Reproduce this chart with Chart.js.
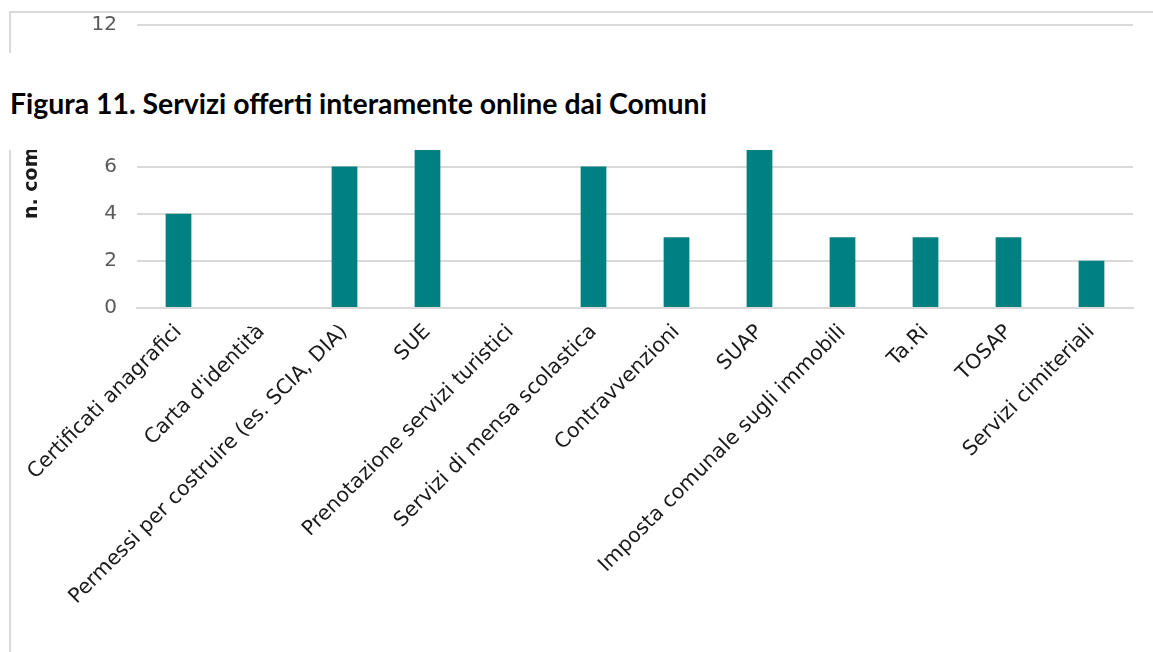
<!DOCTYPE html>
<html>
<head>
<meta charset="utf-8">
<script src="https://cdn.jsdelivr.net/npm/chart.js@4/dist/chart.umd.min.js"></script>
<style>
  html, body { margin: 0; padding: 0; background: #fff; }
  body { width: 1153px; height: 652px; position: relative; overflow: hidden; }
  #frame { position: absolute; left: 9px; top: 11px; width: 1150px; height: 650px;
           border-top: 2px solid #d9d9d9; border-left: 2px solid #d9d9d9; }
  #wrap { position: absolute; left: 11px; top: 13px; width: 1142px; height: 639px; }
  #cover { position: absolute; left: 0; top: 53px; width: 1153px; height: 97px; background: #fff; }
  #cover h1 { margin: 0; position: absolute; left: 10px; top: 34px; font: bold 28.4px Lato, sans-serif; line-height: 32px; color: #000; white-space: nowrap; }
</style>
</head>
<body>
<div id="frame"></div>
<div id="wrap"><canvas id="myChart"></canvas></div>
<div id="cover"><h1>Figura 11. Servizi offerti interamente online dai Comuni</h1></div>
<script>
const categories = [
  'Certificati anagrafici', "Carta d'identità", 'Permessi per costruire (es. SCIA, DIA)', 'SUE',
  'Prenotazione servizi turistici', 'Servizi di mensa scolastica', 'Contravvenzioni', 'SUAP',
  'Imposta comunale sugli immobili', 'Ta.Ri', 'TOSAP', 'Servizi cimiteriali'
]
const comuni = [4, 0, 6, 7, 0, 6, 3, 7, 3, 3, 3, 2]
const yTicks = [0, 2, 4, 6, 8, 10, 12]

var ctx = document.getElementById('myChart').getContext('2d');
var myChart = new Chart(ctx, {
  type: 'bar',
  data: {
    labels: categories,
    datasets: [{
      label: 'n. comuni',
      data: comuni,
      backgroundColor: '#008080',
      borderWidth: 0,
      barPercentage: 0.31,
      categoryPercentage: 1
    }]
  },
  options: {
    responsive: true,
    maintainAspectRatio: false,
    animation: false,
    layout: { padding: { top: 0, right: 20, left: 0, bottom: 0 } },
    plugins: {
      legend: { display: false },
      tooltip: { enabled: false }
    },
    scales: {
      x: {
        grid: { display: false, drawTicks: false },
        border: { display: true, color: '#d9d9d9', width: 2 },
        ticks: {
          autoSkip: false,
          minRotation: 45,
          maxRotation: 45,
          padding: 12,
          color: '#1a1a1a',
          font: { family: 'DejaVu Sans', size: 20.5 }
        },
        afterFit: (s) => { s.height = 344 }
      },
      y: {
        min: 0,
        max: 12,
        afterBuildTicks: (s) => { s.ticks = yTicks.map(v => ({ value: v })) },
        grid: { color: '#d9d9d9', lineWidth: 2, drawTicks: true, tickLength: 20, tickColor: 'rgba(0,0,0,0)' },
        border: { display: false },
        ticks: {
          padding: 0,
          color: '#595959',
          font: { family: 'DejaVu Sans', size: 20 }
        },
        title: {
          display: true,
          text: 'n. comuni',
          color: '#1a1a1a',
          font: { family: 'DejaVu Sans', size: 19, weight: 'bold' },
          padding: { top: 10, bottom: 0 }
        },
        afterFit: (s) => { s.width = 126 }
      }
    }
  }
});
</script>
</body>
</html>
